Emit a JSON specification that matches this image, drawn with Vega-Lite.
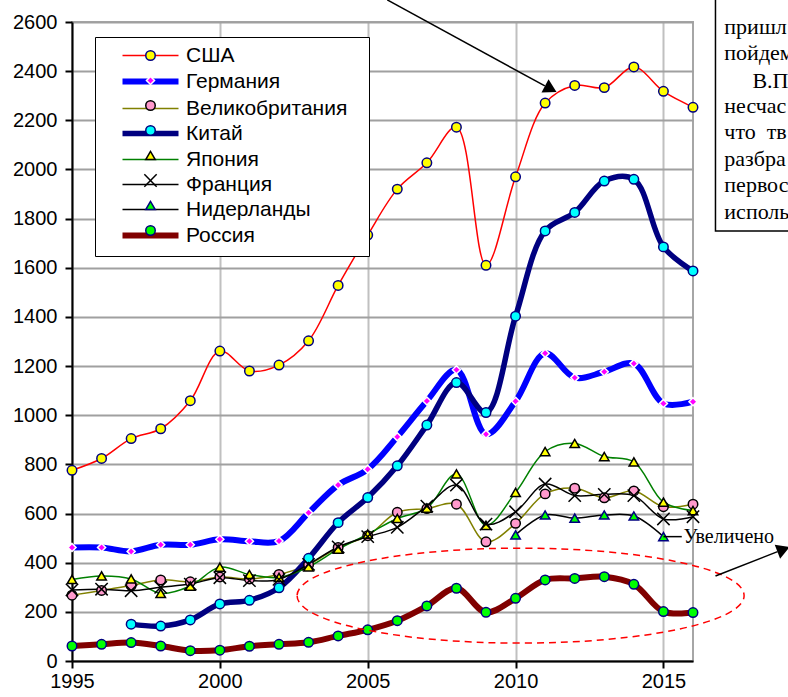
{
"$schema": "https://vega.github.io/schema/vega-lite/v6.json",
"width": 621, "height": 639,
"autosize": {"type": "none"},
"padding": {"left": 72, "top": 22, "right": 95, "bottom": 36},
"background": "white",
"config": {"view": {"stroke": "#a6a6a6", "strokeWidth": 2}, "font": "Liberation Sans"},
"data": {"values": [
{"country":"США","year":1995,"value":776},{"country":"США","year":1996,"value":824},{"country":"США","year":1997,"value":905},{"country":"США","year":1998,"value":945},{"country":"США","year":1999,"value":1059},{"country":"США","year":2000,"value":1261},{"country":"США","year":2001,"value":1180},{"country":"США","year":2002,"value":1204},{"country":"США","year":2003,"value":1303},{"country":"США","year":2004,"value":1528},{"country":"США","year":2005,"value":1733},{"country":"США","year":2006,"value":1920},{"country":"США","year":2007,"value":2027},{"country":"США","year":2008,"value":2172},{"country":"США","year":2009,"value":1610},{"country":"США","year":2010,"value":1970},{"country":"США","year":2011,"value":2270},{"country":"США","year":2012,"value":2342},{"country":"США","year":2013,"value":2333},{"country":"США","year":2014,"value":2417},{"country":"США","year":2015,"value":2318},{"country":"США","year":2016,"value":2253},
{"country":"Германия","year":1995,"value":462},{"country":"Германия","year":1996,"value":462},{"country":"Германия","year":1997,"value":446},{"country":"Германия","year":1998,"value":473},{"country":"Германия","year":1999,"value":473},{"country":"Германия","year":2000,"value":495},{"country":"Германия","year":2001,"value":487},{"country":"Германия","year":2002,"value":488},{"country":"Германия","year":2003,"value":603},{"country":"Германия","year":2004,"value":716},{"country":"Германия","year":2005,"value":780},{"country":"Германия","year":2006,"value":912},{"country":"Германия","year":2007,"value":1058},{"country":"Германия","year":2008,"value":1185},{"country":"Германия","year":2009,"value":923},{"country":"Германия","year":2010,"value":1057},{"country":"Германия","year":2011,"value":1252},{"country":"Германия","year":2012,"value":1153},{"country":"Германия","year":2013,"value":1177},{"country":"Германия","year":2014,"value":1210},{"country":"Германия","year":2015,"value":1048},{"country":"Германия","year":2016,"value":1055},
{"country":"Великобритания","year":1995,"value":268},{"country":"Великобритания","year":1996,"value":287},{"country":"Великобритания","year":1997,"value":307},{"country":"Великобритания","year":1998,"value":330},{"country":"Великобритания","year":1999,"value":322},{"country":"Великобритания","year":2000,"value":342},{"country":"Великобритания","year":2001,"value":334},{"country":"Великобритания","year":2002,"value":352},{"country":"Великобритания","year":2003,"value":392},{"country":"Великобритания","year":2004,"value":462},{"country":"Великобритания","year":2005,"value":510},{"country":"Великобритания","year":2006,"value":605},{"country":"Великобритания","year":2007,"value":620},{"country":"Великобритания","year":2008,"value":638},{"country":"Великобритания","year":2009,"value":485},{"country":"Великобритания","year":2010,"value":560},{"country":"Великобритания","year":2011,"value":680},{"country":"Великобритания","year":2012,"value":703},{"country":"Великобритания","year":2013,"value":664},{"country":"Великобритания","year":2014,"value":692},{"country":"Великобритания","year":2015,"value":628},{"country":"Великобритания","year":2016,"value":638},
{"country":"Китай","year":1997,"value":150},{"country":"Китай","year":1998,"value":142},{"country":"Китай","year":1999,"value":167},{"country":"Китай","year":2000,"value":232},{"country":"Китай","year":2001,"value":247},{"country":"Китай","year":2002,"value":298},{"country":"Китай","year":2003,"value":418},{"country":"Китай","year":2004,"value":563},{"country":"Китай","year":2005,"value":665},{"country":"Китай","year":2006,"value":794},{"country":"Китай","year":2007,"value":960},{"country":"Китай","year":2008,"value":1133},{"country":"Китай","year":2009,"value":1011},{"country":"Китай","year":2010,"value":1403},{"country":"Китай","year":2011,"value":1750},{"country":"Китай","year":2012,"value":1825},{"country":"Китай","year":2013,"value":1953},{"country":"Китай","year":2014,"value":1960},{"country":"Китай","year":2015,"value":1685},{"country":"Китай","year":2016,"value":1587},
{"country":"Япония","year":1995,"value":332},{"country":"Япония","year":1996,"value":346},{"country":"Япония","year":1997,"value":334},{"country":"Япония","year":1998,"value":275},{"country":"Япония","year":1999,"value":305},{"country":"Япония","year":2000,"value":382},{"country":"Япония","year":2001,"value":352},{"country":"Япония","year":2002,"value":340},{"country":"Япония","year":2003,"value":383},{"country":"Япония","year":2004,"value":455},{"country":"Япония","year":2005,"value":516},{"country":"Япония","year":2006,"value":580},{"country":"Япония","year":2007,"value":622},{"country":"Япония","year":2008,"value":761},{"country":"Япония","year":2009,"value":552},{"country":"Япония","year":2010,"value":686},{"country":"Япония","year":2011,"value":852},{"country":"Япония","year":2012,"value":885},{"country":"Япония","year":2013,"value":832},{"country":"Япония","year":2014,"value":810},{"country":"Япония","year":2015,"value":646},{"country":"Япония","year":2016,"value":612},
{"country":"Франция","year":1995,"value":289},{"country":"Франция","year":1996,"value":292},{"country":"Франция","year":1997,"value":286},{"country":"Франция","year":1998,"value":300},{"country":"Франция","year":1999,"value":313},{"country":"Франция","year":2000,"value":339},{"country":"Франция","year":2001,"value":327},{"country":"Франция","year":2002,"value":332},{"country":"Франция","year":2003,"value":393},{"country":"Франция","year":2004,"value":464},{"country":"Франция","year":2005,"value":506},{"country":"Франция","year":2006,"value":544},{"country":"Франция","year":2007,"value":630},{"country":"Франция","year":2008,"value":716},{"country":"Франция","year":2009,"value":557},{"country":"Франция","year":2010,"value":607},{"country":"Франция","year":2011,"value":720},{"country":"Франция","year":2012,"value":673},{"country":"Франция","year":2013,"value":678},{"country":"Франция","year":2014,"value":673},{"country":"Франция","year":2015,"value":578},{"country":"Франция","year":2016,"value":587},
{"country":"Нидерланды","year":2010,"value":513},{"country":"Нидерланды","year":2011,"value":594},{"country":"Нидерланды","year":2012,"value":581},{"country":"Нидерланды","year":2013,"value":594},{"country":"Нидерланды","year":2014,"value":590},{"country":"Нидерланды","year":2015,"value":506},
{"country":"Россия","year":1995,"value":61},{"country":"Россия","year":1996,"value":68},{"country":"Россия","year":1997,"value":75},{"country":"Россия","year":1998,"value":61},{"country":"Россия","year":1999,"value":42},{"country":"Россия","year":2000,"value":44},{"country":"Россия","year":2001,"value":60},{"country":"Россия","year":2002,"value":68},{"country":"Россия","year":2003,"value":76},{"country":"Россия","year":2004,"value":102},{"country":"Россия","year":2005,"value":127},{"country":"Россия","year":2006,"value":164},{"country":"Россия","year":2007,"value":224},{"country":"Россия","year":2008,"value":296},{"country":"Россия","year":2009,"value":198},{"country":"Россия","year":2010,"value":255},{"country":"Россия","year":2011,"value":330},{"country":"Россия","year":2012,"value":336},{"country":"Россия","year":2013,"value":343},{"country":"Россия","year":2014,"value":312},{"country":"Россия","year":2015,"value":201},{"country":"Россия","year":2016,"value":197}
]},
"layer": [
{
"mark": {"type": "line", "interpolate": "catmull-rom"},
"encoding": {
"x": {"field": "year", "type": "quantitative", "scale": {"domain": [1995, 2016], "nice": false, "zero": false},
 "axis": {"values": [1995, 2000, 2005, 2010, 2015], "format": "d", "title": null, "grid": true, "gridColor": "#c0c0c0", "gridWidth": 2, "domainColor": "black", "domainWidth": 2, "tickColor": "black", "tickWidth": 2, "tickSize": 7, "labelFontSize": 20, "labelFont": "Liberation Sans", "labelColor": "black", "labelPadding": 3, "labelFlush": false, "labelOverlap": false}},
"y": {"field": "value", "type": "quantitative", "scale": {"domain": [0, 2600], "nice": false},
 "axis": {"values": [0,100,200,300,400,500,600,700,800,900,1000,1100,1200,1300,1400,1500,1600,1700,1800,1900,2000,2100,2200,2300,2400,2500,2600], "format": "d", "title": null, "labelExpr": "datum.value % 200 == 0 ? datum.label : ''", "labelOverlap": false, "grid": true, "gridColor": {"condition": {"test": "datum.value % 200 == 0", "value": "#a0a0a0"}, "value": "#cccccc"}, "gridWidth": 2, "domainColor": "black", "domainWidth": 2, "tickColor": "black", "tickWidth": 2, "tickSize": 7, "labelFontSize": 20, "labelFont": "Liberation Sans", "labelColor": "black", "labelPadding": 8}},
"color": {"field": "country", "type": "nominal",
 "scale": {"domain": ["США","Германия","Великобритания","Китай","Япония","Франция","Нидерланды","Россия"], "range": ["#ff0000","#0000ff","#808000","#000080","#008000","#000000","#000000","#800000"]},
 "legend": {"orient": "none", "legendX": 23, "legendY": 15, "title": " ", "titleOrient": "right", "titlePadding": 14, "titleFontSize": 20, "titleColor": "transparent", "padding": 8, "strokeColor": "black", "fillColor": "white", "symbolType": "M-5.6,0H5.6", "symbolSize": 100, "symbolOffset": 37, "labelOffset": 25, "labelFont": "Liberation Sans", "labelFontSize": 21, "labelLimit": 400, "labelColor": "black", "rowPadding": 3.0, "symbolFillColor": "transparent", "zindex": 1}},
"strokeWidth": {"field": "country", "type": "nominal",
 "scale": {"type": "ordinal", "domain": ["США","Германия","Великобритания","Китай","Япония","Франция","Нидерланды","Россия"], "range": [1.5, 6, 1.5, 5.5, 1.5, 1.5, 1.5, 6]},
 "legend": {"orient": "none", "legendX": 23, "legendY": 15, "title": " ", "titleOrient": "right", "titlePadding": 14, "titleFontSize": 20, "titleColor": "transparent", "padding": 8, "strokeColor": "black", "fillColor": "white", "symbolType": "M-5.6,0H5.6", "symbolSize": 100, "symbolOffset": 37, "labelOffset": 25, "labelFont": "Liberation Sans", "labelFontSize": 21, "labelLimit": 400, "labelColor": "black", "rowPadding": 3.0, "symbolFillColor": "transparent", "zindex": 1}}
}
},
{
"mark": {"type": "point", "filled": true, "opacity": 1, "size": 90, "strokeWidth": 1.5},
"encoding": {
"x": {"field": "year", "type": "quantitative"},
"y": {"field": "value", "type": "quantitative"},
"fill": {"field": "country", "type": "nominal",
 "scale": {"domain": ["США","Германия","Великобритания","Китай","Япония","Франция","Нидерланды","Россия"," "], "range": ["#ffff00","#ff00ff","#ff99cc","#00ffff","#ffff00","transparent","#00ff00","#00ff00","transparent"]},
 "legend": {"values": ["США","Германия","Великобритания","Китай","Япония","Франция","Нидерланды","Россия"], "orient": "none", "legendX": 23, "legendY": 15, "title": null, "padding": 8, "symbolSize": 90, "symbolOffset": 37, "labelOffset": 25, "labelFont": "Liberation Sans", "labelFontSize": 21, "labelExpr": "''", "labelColor": "transparent", "rowPadding": 3.0, "symbolStrokeWidth": 1.5, "zindex": 2}},
"stroke": {"field": "country", "type": "nominal",
 "scale": {"domain": ["США","Германия","Великобритания","Китай","Япония","Франция","Нидерланды","Россия"," "], "range": ["#000080","#ffffff","#000000","#000080","#000000","#000000","#000080","#000080","transparent"]},
 "legend": {"values": ["США","Германия","Великобритания","Китай","Япония","Франция","Нидерланды","Россия"], "orient": "none", "legendX": 23, "legendY": 15, "title": null, "padding": 8, "symbolSize": 90, "symbolOffset": 37, "labelOffset": 25, "labelFont": "Liberation Sans", "labelFontSize": 21, "labelExpr": "''", "labelColor": "transparent", "rowPadding": 3.0, "symbolStrokeWidth": 1.5, "zindex": 2}},
"shape": {"field": "country", "type": "nominal",
 "scale": {"domain": ["США","Германия","Великобритания","Китай","Япония","Франция","Нидерланды","Россия"," "], "range": ["circle","M0,-0.85L0.85,0L0,0.85L-0.85,0Z","circle","circle","triangle-up","M-1.3,-1.3L1.3,1.3M-1.3,1.3L1.3,-1.3","triangle-up","circle","circle"]},
 "legend": {"values": ["США","Германия","Великобритания","Китай","Япония","Франция","Нидерланды","Россия"], "orient": "none", "legendX": 23, "legendY": 15, "title": null, "padding": 8, "symbolSize": 90, "symbolOffset": 37, "labelOffset": 25, "labelFont": "Liberation Sans", "labelFontSize": 21, "labelExpr": "''", "labelColor": "transparent", "rowPadding": 3.0, "symbolStrokeWidth": 1.5, "zindex": 2}}
}
},
{
"data": {"values": [{}]},
"mark": {"type": "point", "shape": "M-1,0A1,0.2125,0,1,0,1,0A1,0.2125,0,1,0,-1,0Z", "size": 199809, "filled": false, "stroke": "#ff0000", "strokeWidth": 1.5, "strokeDash": [7, 5], "opacity": 1},
"encoding": {"x": {"datum": 2010.17}, "y": {"datum": 266}}
},
{
"data": {"values": [{}]},
"mark": {"type": "rule", "color": "black", "strokeWidth": 1.5},
"encoding": {"x": {"datum": 2005.66}, "y": {"datum": 2690}, "x2": {"datum": 2010.99}, "y2": {"datum": 2340}}
},
{
"data": {"values": [{}]},
"mark": {"type": "point", "shape": "triangle-up", "size": 225, "filled": true, "color": "black", "opacity": 1, "angle": 118},
"encoding": {"x": {"datum": 2011.19}, "y": {"datum": 2328}}
},
{
"data": {"values": [{}]},
"mark": {"type": "rule", "color": "black", "strokeWidth": 1.5},
"encoding": {"x": {"datum": 2016.76}, "y": {"datum": 346}, "x2": {"datum": 2018.86}, "y2": {"datum": 445}}
},
{
"data": {"values": [{}]},
"mark": {"type": "point", "shape": "triangle-up", "size": 225, "filled": true, "color": "black", "opacity": 1, "angle": 69},
"encoding": {"x": {"datum": 2019.06}, "y": {"datum": 454}}
},
{
"data": {"values": [{}]},
"mark": {"type": "rule", "color": "black", "strokeWidth": 1.5},
"encoding": {"x": {"datum": 2015.0}, "y": {"datum": 506}, "x2": {"datum": 2015.62}, "y2": {"datum": 506}}
},
{
"data": {"values": [{}]},
"mark": {"type": "text", "text": "Увеличено", "font": "Liberation Serif", "fontSize": 20, "align": "left", "baseline": "alphabetic", "color": "black"},
"encoding": {"x": {"datum": 2015.68}, "y": {"datum": 480}}
},
{
"data": {"values": [{}]},
"mark": {"type": "rect", "fill": "white", "stroke": "black", "strokeWidth": 1.5},
"encoding": {"x": {"datum": 2016.76}, "x2": {"datum": 2030}, "y": {"datum": 1750}, "y2": {"datum": 2900}}
},
{
"data": {"values": [{}]},
"mark": {"type": "text", "text": ["пришл", "пойдем"], "lineHeight": 25.5, "font": "Liberation Serif", "fontSize": 22, "align": "left", "baseline": "alphabetic", "color": "black"},
"encoding": {"x": {"datum": 2017.06}, "y": {"datum": 2550}}
},
{
"data": {"values": [{}]},
"mark": {"type": "text", "text": "В.П", "font": "Liberation Serif", "fontSize": 22, "align": "left", "baseline": "alphabetic", "color": "black"},
"encoding": {"x": {"datum": 2018.01}, "y": {"datum": 2330}}
},
{
"data": {"values": [{}]},
"mark": {"type": "text", "text": ["несчас", "что\u00a0\u00a0тв", "разбра", "первос", "исполь"], "lineHeight": 26.4, "font": "Liberation Serif", "fontSize": 22, "align": "left", "baseline": "alphabetic", "color": "black"},
"encoding": {"x": {"datum": 2017.06}, "y": {"datum": 2230}}
}
]
}
